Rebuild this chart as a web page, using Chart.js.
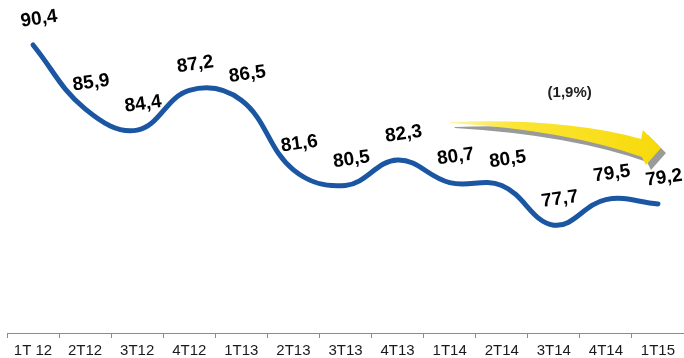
<!DOCTYPE html>
<html>
<head>
<meta charset="utf-8">
<script src="https://cdn.jsdelivr.net/npm/chart.js@4.4.1/dist/chart.umd.min.js"></script>
<style>
  html, body { margin: 0; padding: 0; background: #fff; }
  #wrap { width: 684px; height: 358px; position: relative; }
</style>
</head>
<body>
<div id="wrap"><canvas id="chart"></canvas></div>
<script>
// quarters and the index value for each one
var quarters = ['1T 12', '2T12', '3T12', '4T12', '1T13', '2T13', '3T13', '4T13', '1T14', '2T14', '3T14', '4T14', '1T15'];
var values = [90.4, 85.9, 84.4, 87.2, 86.5, 81.6, 80.5, 82.3, 80.7, 80.5, 77.7, 79.5, 79.2];
// year-on-year change shown above the arrow
var changeLabel = '(1,9%)';
var arrowFrom = '1T14';
var arrowTo = '1T15';

var fmt = function (v) { return v.toFixed(1).replace('.', ','); };

// value labels, slightly tilted, above each point
var pointLabels = {
  id: 'pointLabels',
  afterDatasetsDraw: function (chart) {
    var ctx = chart.ctx;
    var meta = chart.getDatasetMeta(0);
    ctx.save();
    ctx.font = 'bold 19px "Liberation Sans", Arial, sans-serif';
    ctx.fillStyle = '#000';
    ctx.textAlign = 'center';
    ctx.textBaseline = 'middle';
    meta.data.forEach(function (pt, i) {
      ctx.save();
      ctx.translate(pt.x + 6, pt.y - 26);
      ctx.rotate(-8 * Math.PI / 180);
      ctx.fillText(fmt(values[i]), 0, 0);
      ctx.restore();
    });
    ctx.restore();
  }
};

// curved yellow trend arrow with grey drop shadow
var trendArrow = {
  id: 'trendArrow',
  afterDraw: function (chart) {
    var ctx = chart.ctx;
    var xs = chart.scales.x;
    var x0 = xs.getPixelForValue(quarters.indexOf(arrowFrom));
    var x1 = xs.getPixelForValue(quarters.indexOf(arrowTo)) + 3;
    var y0 = 122;

    function path(dx, dy) {
      ctx.beginPath();
      ctx.moveTo(x0 + dx, y0 + dy);
      ctx.quadraticCurveTo(x1 - 95 + dx, y0 - 4 + dy, x1 - 20 + dx, y0 + 17 + dy);
      ctx.lineTo(x1 - 18 + dx, y0 + 8 + dy);
      ctx.lineTo(x1 + dx, y0 + 26 + dy);
      ctx.lineTo(x1 - 15 + dx, y0 + 43 + dy);
      ctx.lineTo(x1 - 19 + dx, y0 + 35 + dy);
      ctx.quadraticCurveTo(x1 - 95 + dx, y0 + 8 + dy, x0 + dx, y0 + 1 + dy);
      ctx.closePath();
    }

    ctx.save();
    path(5, 5);
    ctx.fillStyle = '#9a9a9a';
    ctx.fill();
    var g = ctx.createLinearGradient(x0, 0, x1, 0);
    g.addColorStop(0, '#fff6b0');
    g.addColorStop(0.3, '#fbe535');
    g.addColorStop(1, '#f7da0a');
    path(0, 0);
    ctx.fillStyle = g;
    ctx.fill();

    ctx.font = 'bold 15px "Liberation Sans", Arial, sans-serif';
    ctx.fillStyle = '#222';
    ctx.textAlign = 'center';
    ctx.textBaseline = 'middle';
    ctx.fillText(changeLabel, x0 + 120, 93);
    ctx.restore();
  }
};

new Chart(document.getElementById('chart'), {
  type: 'line',
  data: {
    labels: quarters,
    datasets: [{
      data: values,
      borderColor: '#1a56a2',
      borderWidth: 5,
      borderCapStyle: 'round',
      tension: 0.4,
      pointRadius: 0,
      fill: false
    }]
  },
  options: {
    responsive: true,
    maintainAspectRatio: false,
    animation: false,
    layout: { padding: { left: 7, right: -4, top: 0, bottom: 0 } },
    plugins: {
      legend: { display: false },
      tooltip: { enabled: false }
    },
    scales: {
      x: {
        offset: true,
        afterFit: function (scale) { scale.height = 25; },
        grid: {
          offset: true,
          drawOnChartArea: false,
          drawTicks: true,
          tickLength: 5,
          color: '#8c8c8c'
        },
        border: { color: '#8c8c8c', width: 1 },
        ticks: {
          color: '#1a1a1a',
          padding: 5,
          maxRotation: 0,
          autoSkip: false,
          font: { family: '"Liberation Sans", Arial, sans-serif', size: 15, lineHeight: 1 }
        }
      },
      y: {
        display: false,
        min: 70.1,
        max: 93.57
      }
    }
  },
  plugins: [pointLabels, trendArrow]
});
</script>
</body>
</html>
